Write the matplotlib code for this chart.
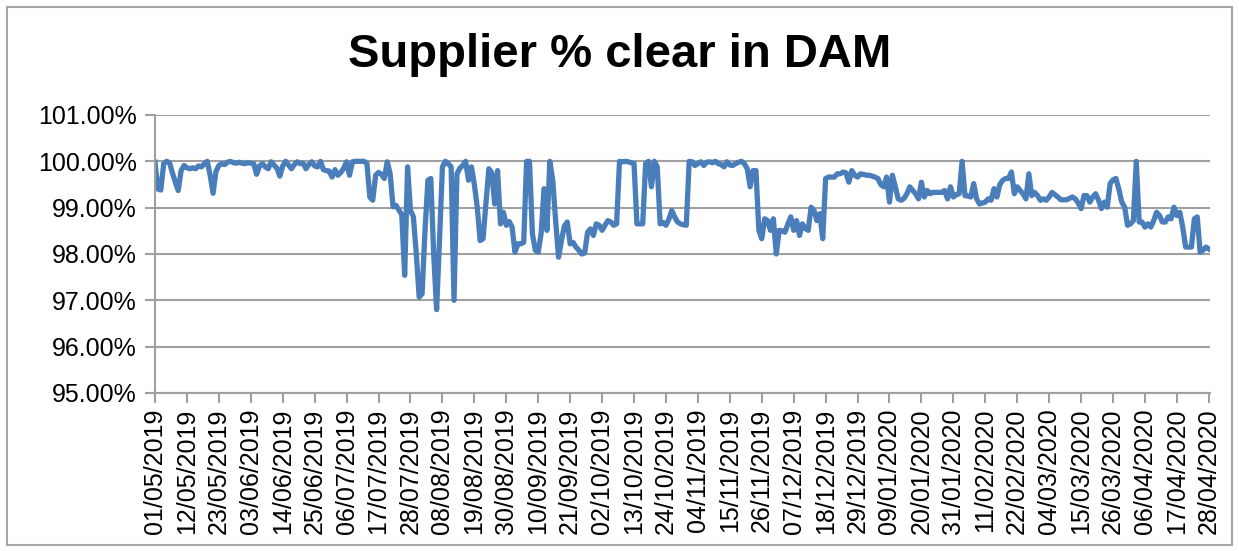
import numpy as np
import pandas as pd
import matplotlib
matplotlib.use('Agg')
import matplotlib.pyplot as plt
from matplotlib.ticker import FuncFormatter
from matplotlib.patches import Rectangle

plt.rcParams['font.family'] = ['Liberation Sans', 'DejaVu Sans']

title = 'Supplier % clear in DAM'
start_date = '2019-05-01'

# daily % cleared (01/05/2019 .. 28/04/2020)
pct_clear = [
    99.98, 99.40, 99.38, 99.95, 100.0, 99.97, 99.75, 99.55, 99.37, 99.80,
    99.91, 99.86, 99.84, 99.86, 99.84, 99.90, 99.88, 99.95, 100.0, 99.70,
    99.31, 99.78, 99.91, 99.95, 99.93, 99.98, 100.0, 99.97, 99.96, 99.98,
    99.96, 99.95, 99.97, 99.96, 99.95, 99.72, 99.90, 99.95, 99.88, 99.84,
    99.99, 99.92, 99.85, 99.68, 99.90, 100.0, 99.92, 99.84, 99.93, 99.99,
    99.95, 99.96, 99.84, 99.93, 99.99, 99.90, 99.88, 100.0, 99.82, 99.80,
    99.79, 99.66, 99.82, 99.70, 99.76, 99.85, 99.99, 99.70, 99.99, 100.0,
    100.0, 100.0, 100.0, 99.95, 99.23, 99.16, 99.70, 99.76, 99.72, 99.63,
    99.99, 99.73, 99.02, 99.05, 98.95, 98.85, 97.54, 99.88, 98.94, 98.80,
    98.00, 97.07, 97.14, 98.50, 99.59, 99.63, 98.00, 96.80, 98.30, 99.88,
    100.0, 99.95, 99.88, 97.00, 99.73, 99.85, 99.91, 100.0, 99.59, 99.88,
    99.50, 99.01, 98.29, 98.33, 99.10, 99.84, 99.75, 99.08, 99.80, 98.65,
    98.90, 98.62, 98.70, 98.58, 98.04, 98.22, 98.22, 98.25, 100.0, 100.0,
    98.44, 98.08, 98.04, 98.44, 99.41, 98.51, 100.0, 99.59, 98.72, 97.93,
    98.29, 98.60, 98.69, 98.22, 98.25, 98.15, 98.08, 98.00, 98.02, 98.47,
    98.54, 98.40, 98.65, 98.62, 98.51, 98.62, 98.72, 98.69, 98.62, 98.65,
    100.0, 99.99, 100.0, 99.99, 99.97, 99.95, 98.65, 98.65, 98.65, 99.95,
    100.0, 99.45, 100.0, 99.88, 98.65, 98.68, 98.62, 98.75, 98.94, 98.80,
    98.69, 98.65, 98.63, 98.62, 100.0, 99.99, 99.91, 99.95, 99.99, 99.91,
    99.98, 99.99, 99.97, 100.0, 99.95, 99.93, 99.88, 99.99, 99.92, 99.91,
    99.95, 99.98, 100.0, 99.95, 99.84, 99.45, 99.80, 99.80, 98.51, 98.33,
    98.76, 98.72, 98.51, 98.76, 98.00, 98.51, 98.50, 98.47, 98.65, 98.80,
    98.51, 98.72, 98.40, 98.65, 98.55, 98.51, 99.01, 98.94, 98.72, 98.87,
    98.33, 99.63, 99.66, 99.66, 99.66, 99.73, 99.73, 99.77, 99.75, 99.55,
    99.80, 99.70, 99.66, 99.73, 99.72, 99.70, 99.70, 99.68, 99.66, 99.63,
    99.50, 99.45, 99.66, 99.12, 99.70, 99.45, 99.19, 99.16, 99.20, 99.30,
    99.45, 99.37, 99.30, 99.19, 99.55, 99.23, 99.37, 99.30, 99.33, 99.33,
    99.33, 99.33, 99.37, 99.19, 99.45, 99.23, 99.28, 99.30, 100.0, 99.26,
    99.25, 99.23, 99.52, 99.19, 99.08, 99.10, 99.12, 99.19, 99.16, 99.41,
    99.23, 99.50, 99.59, 99.63, 99.63, 99.77, 99.30, 99.45, 99.37, 99.30,
    99.19, 99.73, 99.26, 99.33, 99.26, 99.16, 99.19, 99.16, 99.23, 99.33,
    99.28, 99.23, 99.17, 99.17, 99.17, 99.20, 99.23, 99.19, 99.10, 98.98,
    99.26, 99.26, 99.12, 99.23, 99.30, 99.16, 98.98, 99.12, 99.01, 99.52,
    99.60, 99.63, 99.40, 99.12, 99.01, 98.62, 98.65, 98.72, 100.0, 98.69,
    98.69, 98.58, 98.65, 98.58, 98.72, 98.90, 98.83, 98.69, 98.69, 98.80,
    98.76, 99.01, 98.83, 98.90, 98.58, 98.15, 98.15, 98.15, 98.76, 98.80,
    98.04, 98.08, 98.15, 98.11,
]
y_ticks = [95, 96, 97, 98, 99, 100, 101]
tick_step = 11  # days between category labels

dates = pd.date_range(start_date, periods=len(pct_clear), freq='D')
xs = np.arange(len(pct_clear))

fig = plt.figure(figsize=(12.39, 5.51), dpi=100)
ax = fig.add_axes([0.1251, 0.2868, 0.8515, 0.5045])

# outer chart border
fig.patches.append(Rectangle((0.006, 0.01), 0.988, 0.978, transform=fig.transFigure,
                             fill=False, edgecolor='#a6a6a6', linewidth=1.5))

ax.plot(xs, pct_clear, color='#4a7ebb', linewidth=3.8, solid_joinstyle='round')

ax.set_ylim(95, 101)
ax.set_yticks(y_ticks)
ax.yaxis.set_major_formatter(FuncFormatter(lambda v, p: f'{v:.2f}%'))
ax.set_xlim(0, len(pct_clear) - 0.6)
tick_pos = xs[::tick_step]
ax.set_xticks(tick_pos)
ax.set_xticklabels([dates[i].strftime('%d/%m/%Y') for i in tick_pos], rotation=90)

ax.grid(axis='y', color='#a0a0a0', linewidth=1.5)
ax.set_axisbelow(True)
for s in ['top', 'right']:
    ax.spines[s].set_visible(False)
for s in ['left', 'bottom']:
    ax.spines[s].set_color('#a0a0a0')
    ax.spines[s].set_linewidth(1.5)
ax.tick_params(axis='both', labelsize=18, color='#a0a0a0', width=1.5, length=7)
ax.tick_params(axis='y', pad=6)
ax.tick_params(axis='x', pad=4)

fig.suptitle(title, x=0.5, y=0.94, fontsize=34, fontweight='bold')

fig.savefig('out.png', dpi=100)
